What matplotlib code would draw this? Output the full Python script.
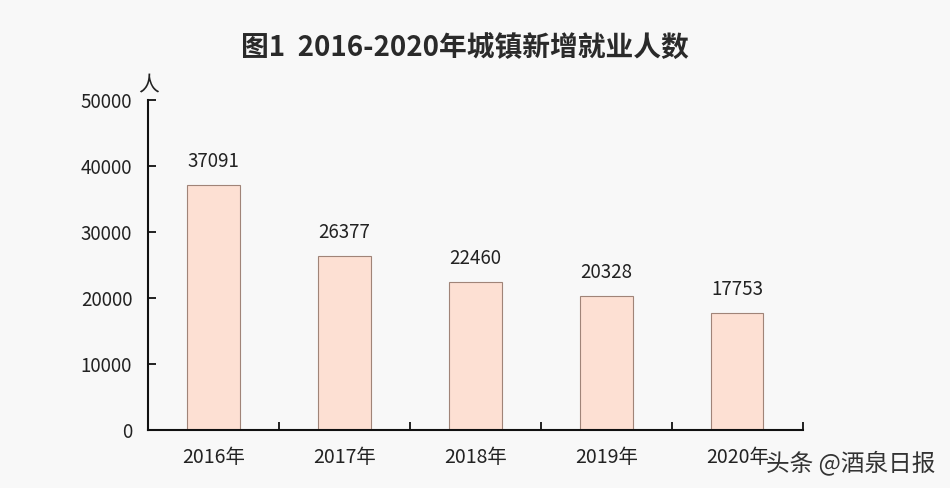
"""
图1 2016-2020年城镇新增就业人数 - bar chart recreation
"""

import matplotlib
matplotlib.use("Agg")
import matplotlib.pyplot as plt

plt.rcParams["font.family"] = ["Noto Sans CJK SC", "DejaVu Sans"]

# Data.
years = ["2016年", "2017年", "2018年", "2019年", "2020年"]
new_jobs = [37091, 26377, 22460, 20328, 17753]
y_ticks = [0, 10000, 20000, 30000, 40000, 50000]

BG = "#f8f8f8"
BAR_FILL = "#fde0d3"
BAR_EDGE = "#a08478"

fig = plt.figure(figsize=(9.5, 4.88), dpi=100, facecolor=BG)
ax = fig.add_axes([0.156, 0.119, 0.689, 0.676], facecolor=BG)

x = list(range(len(years)))
bars = ax.bar(x, new_jobs, width=0.4, color=BAR_FILL, edgecolor=BAR_EDGE, linewidth=0.8)

# Value labels above each bar.
for xi, v in zip(x, new_jobs):
    ax.text(xi, v + 2000, str(v), ha="center", va="bottom", fontsize=13.5, color="#222222")

ax.set_xlim(-0.5, len(years) - 0.5)
ax.set_ylim(0, 50000)
ax.set_yticks(y_ticks)
ax.set_yticklabels([str(t) for t in y_ticks], fontsize=13.5, color="#222222")

# Category labels centred under bars, ticks at the category boundaries.
ax.set_xticks([i - 0.5 for i in range(len(years) + 1)])
ax.set_xticklabels([])
ax.set_xticks(x, minor=True)
ax.set_xticklabels(years, minor=True, fontsize=14, color="#222222")
ax.tick_params(axis="x", which="minor", length=0, pad=12)
ax.tick_params(axis="x", which="major", direction="in", length=6, width=1.3, color="#111111")
ax.tick_params(axis="y", direction="in", length=6, width=1.3, color="#111111", pad=11.5)

for side in ["top", "right"]:
    ax.spines[side].set_visible(False)
for side in ["left", "bottom"]:
    ax.spines[side].set_linewidth(1.5)
    ax.spines[side].set_color("#111111")

# Unit label at the top of the y axis.
ax.text(0.0, 1.01, "人", transform=ax.transAxes, ha="center", va="bottom", fontsize=15, color="#222222")

fig.text(0.489, 0.90, "图1  2016-2020年城镇新增就业人数", ha="center", va="center",
         fontsize=20, fontweight="bold", color="#2a2a2a")

# Watermark in the lower right corner.
fig.text(0.985, 0.052, "头条 @酒泉日报", ha="right", va="center", fontsize=17, color="#333333")

fig.savefig("out.png", dpi=100, facecolor=BG)
